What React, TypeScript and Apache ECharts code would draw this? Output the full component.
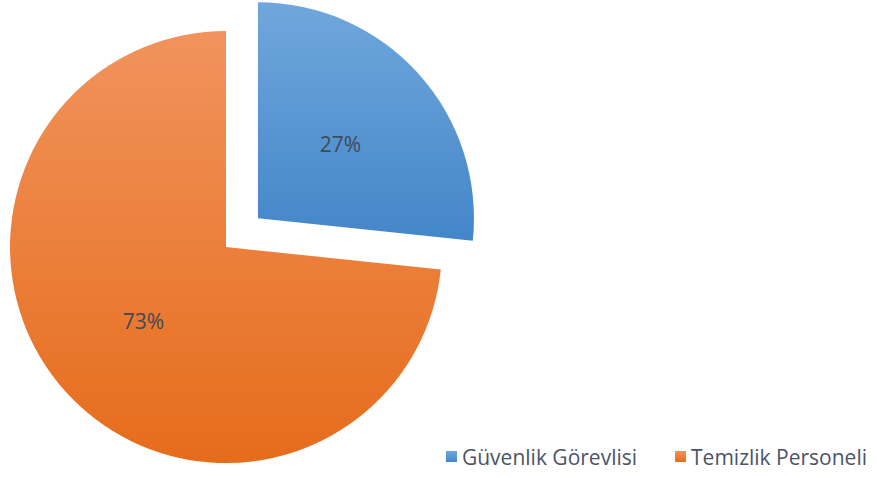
import React, { useEffect, useRef } from "react";
import * as echarts from "echarts";

const categories = ["Güvenlik Görevlisi", "Temizlik Personeli"];
const values = [4, 11];
const topColors = ["#70a7dc", "#f1935d"];
const bottomColors = ["#4386c9", "#e66c1b"];

export default function App() {
  const ref = useRef<HTMLDivElement>(null);
  useEffect(() => {
    document.body.style.margin = "0";
    const chart = echarts.init(ref.current!, undefined, { renderer: "svg" });
    chart.setOption({
      animation: false,
      backgroundColor: "#ffffff",
      legend: {
        bottom: 6,
        right: 5,
        itemWidth: 11,
        itemHeight: 11,
        itemGap: 38,
        icon: "rect",
        textStyle: { fontFamily: "Open Sans", fontSize: 21, color: "#4a5468" },
        data: categories,
      },
      series: [
        {
          type: "pie",
          center: [226, 247],
          radius: [0, 216],
          startAngle: 90,
          clockwise: true,
          percentPrecision: 0,
          selectedMode: "single",
          selectedOffset: 43,
          label: {
            show: true,
            position: "inside",
            formatter: "{d}%",
            fontFamily: "Open Sans",
            fontSize: 21,
            color: "#404a59",
          },
          labelLine: { show: false },
          emphasis: { disabled: true },
          data: categories.map((name, i) => ({
            name,
            value: values[i],
            selected: i === 0,
            itemStyle: {
              color: new echarts.graphic.LinearGradient(0, 0, 0, 1, [
                { offset: 0, color: topColors[i] },
                { offset: 1, color: bottomColors[i] },
              ]),
            },
          })),
        },
      ],
    });
    return () => chart.dispose();
  }, []);
  return <div ref={ref} style={{ width: 877, height: 478 }} />;
}
